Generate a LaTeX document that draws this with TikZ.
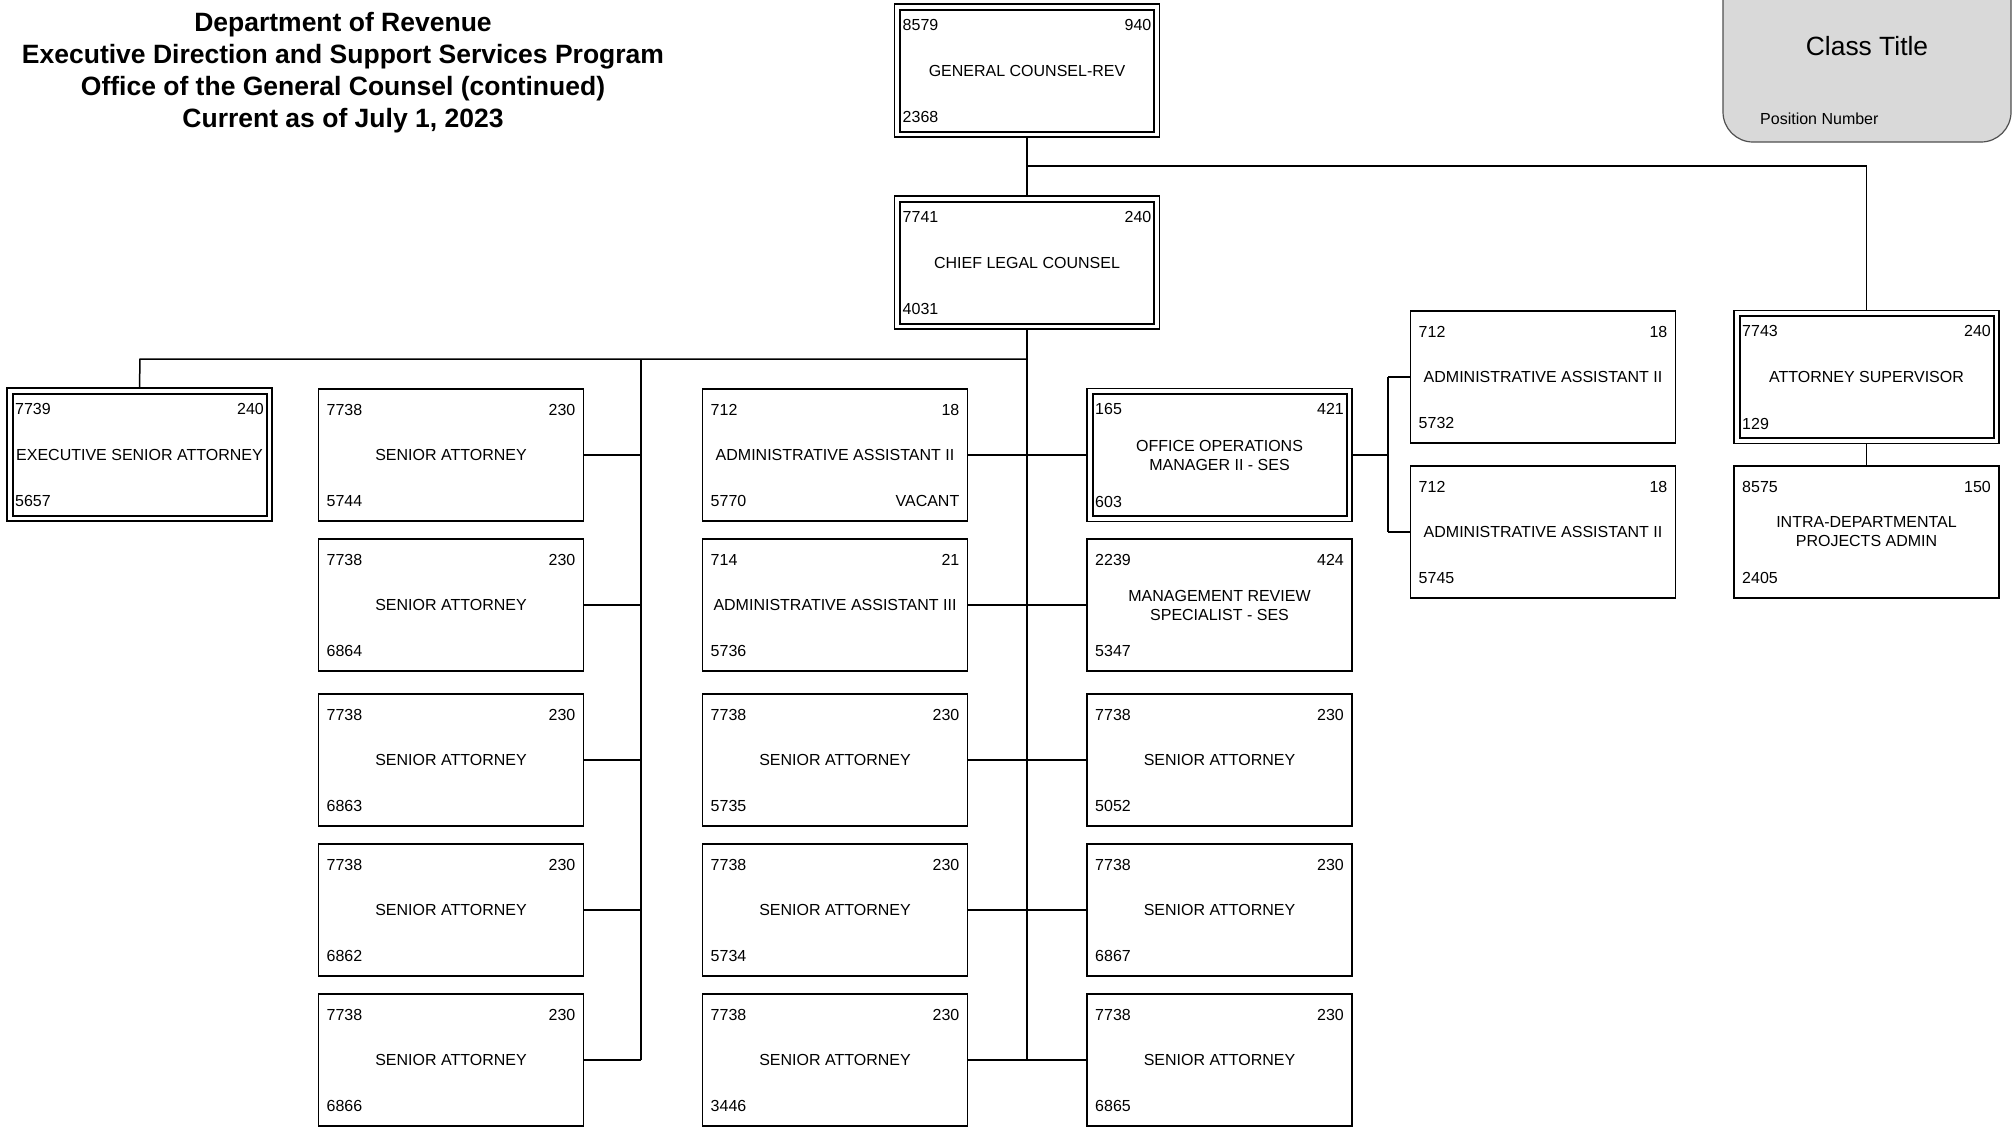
\documentclass[tikz,border=0pt]{standalone}
\usepackage{fontspec}
\setmainfont{Liberation Sans}
\definecolor{legendgray}{HTML}{D9D9D9}
\definecolor{legendedge}{HTML}{505050}
\newcommand\boxfont{\fontsize{16}{19}\selectfont}
% #1 style, #2 name, #3 x, #4 y, #5 class code, #6 pay grade, #7 class title, #8 position number, #9 status
\newcommand\orgbox[9]{%
  \node[#1] (#2) at (#3,#4) {};
  \node[txt, anchor=west] at ([xshift=8pt,yshift=-20.5pt]#2.north west) {#5};
  \node[txt, anchor=east] at ([xshift=-8pt,yshift=-20.5pt]#2.north east) {#6};
  \node[txt, align=center] at (#2.center) {#7};
  \node[txt, anchor=west] at ([xshift=8pt,yshift=20pt]#2.south west) {#8};
  \node[txt, anchor=east] at ([xshift=-8pt,yshift=20pt]#2.south east) {#9};
}
\newcommand\innerframe[1]{%
  \draw[line width=2pt] ([xshift=5.5pt,yshift=-5.5pt]#1.north west) rectangle ([xshift=-5.5pt,yshift=5.5pt]#1.south east);
}
\begin{document}
\begin{tikzpicture}[x=1pt,y=-1pt,
  box/.style={draw, line width=1.5pt, minimum width=265pt, minimum height=132pt, inner sep=0pt, outer sep=0pt},
  dbox/.style={box, line width=1.1pt, minimum height=133pt},
  txt/.style={font=\boxfont, inner sep=0pt},
  link/.style={line width=1.5pt},
  spine/.style={line width=2.6pt}
]
\useasboundingbox (0,0) rectangle (2013,1128);

% heading
\node[font=\fontsize{26.5}{32}\selectfont\bfseries, align=center, inner sep=0pt] (heading) at (343,72.5)
  {Department of Revenue\\Executive Direction and Support Services Program\\Office of the General Counsel (continued)\\Current as of July 1, 2023};

% legend
\draw[fill=legendgray, draw=legendedge, line width=1.2pt, rounded corners=30pt] (1723,-40) rectangle (2011,142);
\node[font=\fontsize{26.4}{30}\selectfont, inner sep=0pt] (legtitle) at (1867,46) {Class Title};
\node[txt, anchor=west] (legpos) at (1760,119) {Position Number};

% top of the office
\orgbox{dbox}{gc}{1027}{70.5}{8579}{940}{GENERAL COUNSEL-REV}{2368}{}
\innerframe{gc}
\orgbox{dbox}{chief}{1027}{262.5}{7741}{240}{CHIEF LEGAL COUNSEL}{4031}{}
\innerframe{chief}

% left branch
\orgbox{dbox}{esa}{139.5}{454.5}{7739}{240}{EXECUTIVE SENIOR ATTORNEY}{5657}{}
\innerframe{esa}

% first column of senior attorneys
\orgbox{box}{sa1}{451}{455}{7738}{230}{SENIOR ATTORNEY}{5744}{}
\orgbox{box}{sa2}{451}{605}{7738}{230}{SENIOR ATTORNEY}{6864}{}
\orgbox{box}{sa3}{451}{760}{7738}{230}{SENIOR ATTORNEY}{6863}{}
\orgbox{box}{sa4}{451}{910}{7738}{230}{SENIOR ATTORNEY}{6862}{}
\orgbox{box}{sa5}{451}{1060}{7738}{230}{SENIOR ATTORNEY}{6866}{}

% second column
\orgbox{box}{aa}{835}{455}{712}{18}{ADMINISTRATIVE ASSISTANT II}{5770}{VACANT}
\orgbox{box}{aaiii}{835}{605}{714}{21}{ADMINISTRATIVE ASSISTANT III}{5736}{}
\orgbox{box}{sb3}{835}{760}{7738}{230}{SENIOR ATTORNEY}{5735}{}
\orgbox{box}{sb4}{835}{910}{7738}{230}{SENIOR ATTORNEY}{5734}{}
\orgbox{box}{sb5}{835}{1060}{7738}{230}{SENIOR ATTORNEY}{3446}{}

% third column
\orgbox{dbox}{oom}{1219.5}{455}{165}{421}{OFFICE OPERATIONS\\MANAGER II - SES}{603}{}
\innerframe{oom}
\orgbox{box}{mrs}{1219.5}{605}{2239}{424}{MANAGEMENT REVIEW\\SPECIALIST - SES}{5347}{}
\orgbox{box}{sc3}{1219.5}{760}{7738}{230}{SENIOR ATTORNEY}{5052}{}
\orgbox{box}{sc4}{1219.5}{910}{7738}{230}{SENIOR ATTORNEY}{6867}{}
\orgbox{box}{sc5}{1219.5}{1060}{7738}{230}{SENIOR ATTORNEY}{6865}{}

% assistants of the operations manager
\orgbox{box}{aa1}{1543}{377}{712}{18}{ADMINISTRATIVE ASSISTANT II}{5732}{}
\orgbox{box}{aa2}{1543}{532}{712}{18}{ADMINISTRATIVE ASSISTANT II}{5745}{}

% attorney supervisor branch
\orgbox{dbox}{as}{1866.5}{377}{7743}{240}{ATTORNEY SUPERVISOR}{129}{}
\innerframe{as}
\orgbox{box}{ida}{1866.5}{532}{8575}{150}{INTRA-DEPARTMENTAL\\PROJECTS ADMIN}{2405}{}

% junction points
\coordinate (gcj) at (1027,166);
\coordinate (bus) at (1027,359);
\coordinate (spend) at (1027,1060);
\coordinate (esaj) at (140,359);
\coordinate (colj) at (641,359);
\coordinate (colend) at (641,1060);
\coordinate (oomj) at (1388,455);
\coordinate (oomt) at (1388,377);
\coordinate (oomb) at (1388,532);

% connectors
\draw[link] (gc.south) -- (chief.north);
\draw[link] (gcj) -| (as.north);
\draw[spine] (chief.south) -- (spend);
\draw[link] (bus) -- (esaj) -- (esa.north);
\draw[link] (colj) -- (colend);
\foreach \n in {sa1,sa2,sa3,sa4,sa5}{\draw[link] (\n.east) -- (\n.east -| colj);}
\foreach \n in {aa,aaiii,sb3,sb4,sb5}{\draw[link] (\n.east) -- (\n.east -| bus);}
\foreach \n in {oom,mrs,sc3,sc4,sc5}{\draw[link] (\n.west) -- (\n.west -| bus);}
\draw[link] (oom.east) -- (oomj);
\draw[link] (oomt) -- (oomb);
\draw[link] (oomt) -- (aa1.west);
\draw[link] (oomb) -- (aa2.west);
\draw[link] (as.south) -- (ida.north);
\end{tikzpicture}
\end{document}
